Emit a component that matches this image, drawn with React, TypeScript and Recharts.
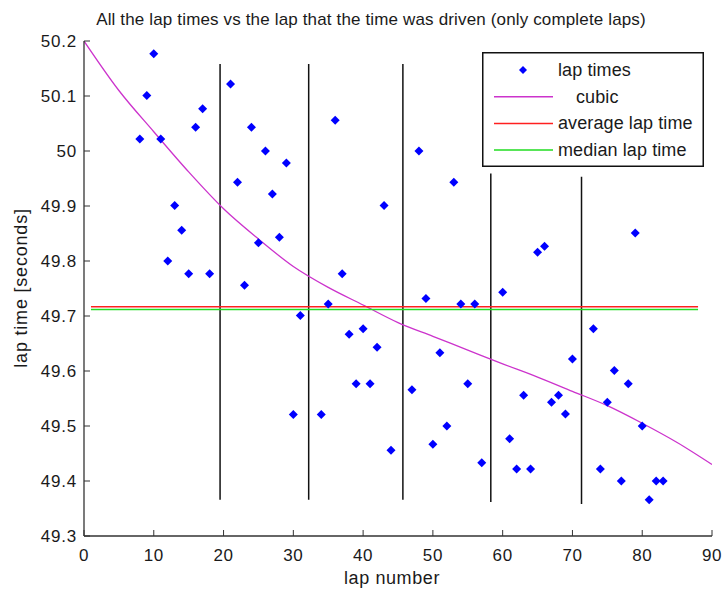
import { ComposedChart, Scatter, Line, XAxis, YAxis, ReferenceLine, Legend, Label } from 'recharts'

// lap numbers and their times (only complete laps, pit laps left out)
const laps = [
  8, 9, 10, 11, 12, 13, 14, 15, 16, 17, 18,
  21, 22, 23, 24, 25, 26, 27, 28, 29, 30, 31,
  34, 35, 36, 37, 38, 39, 40, 41, 42, 43, 44,
  47, 48, 49, 50, 51, 52, 53, 54, 55, 56, 57,
  60, 61, 62, 63, 64, 65, 66, 67, 68, 69, 70,
  73, 74, 75, 76, 77, 78, 79, 80, 81, 82, 83,
]
const lapTimes = [
  50.022, 50.101, 50.177, 50.022, 49.8, 49.901, 49.856, 49.777, 50.043, 50.077, 49.777,
  50.122, 49.943, 49.756, 50.043, 49.833, 50.0, 49.922, 49.843, 49.978, 49.521, 49.701,
  49.521, 49.722, 50.056, 49.777, 49.667, 49.577, 49.677, 49.577, 49.643, 49.901, 49.456,
  49.566, 50.0, 49.732, 49.467, 49.633, 49.5, 49.943, 49.722, 49.577, 49.722, 49.433,
  49.743, 49.477, 49.422, 49.556, 49.422, 49.816, 49.827, 49.543, 49.556, 49.522, 49.622,
  49.677, 49.422, 49.543, 49.601, 49.4, 49.577, 49.851, 49.5, 49.366, 49.4, 49.4,
]

// cubic fit, every 5 laps
const cubicLaps = [0, 5, 10, 15, 20, 25, 30, 35, 40, 45, 50, 55, 60, 65, 70, 75, 80, 85, 90]
const cubicTimes = [
  50.2, 50.11, 50.035, 49.962, 49.895, 49.84, 49.79, 49.752, 49.72, 49.688,
  49.663, 49.638, 49.613, 49.589, 49.563, 49.537, 49.505, 49.47, 49.43,
]

const avgLapTime = 49.7166
const medianLapTime = 49.712
const refLineLaps = [1, 88]

// pit stop markers (vertical lines)
const pitLaps = [19.5, 32.2, 45.7, 58.3, 71.3]
const pitTop = [50.158, 50.158, 50.158, 49.959, 49.953]
const pitBottom = [49.366, 49.366, 49.366, 49.362, 49.358]

const xTicks = [0, 10, 20, 30, 40, 50, 60, 70, 80, 90]
const yTicks = [49.3, 49.4, 49.5, 49.6, 49.7, 49.8, 49.9, 50, 50.1, 50.2]

const scatterData = laps.map((lap, i) => ({ lap, time: lapTimes[i] }))
const cubicData = cubicLaps.map((lap, i) => ({ lap, time: cubicTimes[i] }))
const avgData = refLineLaps.map((lap) => ({ lap, time: avgLapTime }))
const medianData = refLineLaps.map((lap) => ({ lap, time: medianLapTime }))

const FONT = '"Liberation Sans", Arial, sans-serif'
const AXIS = '#333'
const TXT = '#1a1a1a'

const fmtY = (v: number) => String(Number(v.toFixed(1)))

const XTick = ({ x, y, payload }: any) => (
  <g>
    <line x1={x} y1={y} x2={x} y2={y - 6} stroke={AXIS} />
    <text x={x} y={y + 19} textAnchor="middle" dominantBaseline="central" fontSize={17} letterSpacing={0.6} fontFamily={FONT} fill={TXT}>
      {payload.value}
    </text>
  </g>
)

const YTick = ({ x, y, payload }: any) => (
  <g>
    <line x1={x} y1={y} x2={x + 6} y2={y} stroke={AXIS} />
    <text x={x - 7} y={y} textAnchor="end" dominantBaseline="central" fontSize={17} letterSpacing={0.8} fontFamily={FONT} fill={TXT}>
      {fmtY(payload.value)}
    </text>
  </g>
)

const Diamond = ({ cx, cy }: any) => (
  <polygon points={`${cx},${cy - 4.5} ${cx + 4.5},${cy} ${cx},${cy + 4.5} ${cx - 4.5},${cy}`} fill="#0000ff" />
)

const LegendBox = () => {
  const rows = [
    { label: 'lap times', kind: 'dot', color: '#0000ff', tx: 76 },
    { label: 'cubic', kind: 'line', color: '#cc33cc', tx: 94 },
    { label: 'average lap time', kind: 'line', color: '#ff2020', tx: 76 },
    { label: 'median lap time', kind: 'line', color: '#20dd20', tx: 76 },
  ]
  return (
    <svg width={222} height={115} style={{ display: 'block' }}>
      <rect x={0.75} y={0.75} width={220.5} height={113.5} fill="#fff" stroke="#111" strokeWidth={1.5} />
      {rows.map((r, i) => {
        const cy = 18 + i * 26.7
        return (
          <g key={r.label}>
            {r.kind === 'dot' ? (
              <polygon points={`41,${cy - 4} 45,${cy} 41,${cy + 4} 37,${cy}`} fill={r.color} />
            ) : (
              <line x1={12} y1={cy} x2={71} y2={cy} stroke={r.color} strokeWidth={1.5} />
            )}
            <text x={r.tx} y={cy} dominantBaseline="central" fontSize={18} letterSpacing={0.1} fontFamily={FONT} fill={TXT}>
              {r.label}
            </text>
          </g>
        )
      })}
    </svg>
  )
}

export default function App() {
  return (
    <div style={{ position: 'absolute', left: 0, top: 0, width: 723, height: 590, background: '#fff' }}>
      <div
        style={{
          position: 'absolute', left: 0, top: 10, width: 742, textAlign: 'center',
          fontFamily: FONT, fontSize: 17, letterSpacing: 0.15, color: TXT, lineHeight: '20px',
        }}
      >
        All the lap times vs the lap that the time was driven (only complete laps)
      </div>
      <ComposedChart width={723} height={590} margin={{ top: 41, right: 11, left: 0, bottom: 0 }}>
        <XAxis
          type="number"
          dataKey="lap"
          domain={[0, 90]}
          ticks={xTicks}
          allowDataOverflow
          height={54}
          tickSize={0}
          tickMargin={0}
          tickLine={false}
          axisLine={{ stroke: AXIS, strokeWidth: 1.3 }}
          tick={<XTick />}
        >
          <Label
            content={() => (
              <text x={392} y={578} textAnchor="middle" dominantBaseline="central" fontSize={18} letterSpacing={0.6} fontFamily={FONT} fill={TXT}>
                lap number
              </text>
            )}
          />
        </XAxis>
        <YAxis
          type="number"
          dataKey="time"
          domain={[49.3, 50.2]}
          ticks={yTicks}
          allowDataOverflow
          width={84}
          tickSize={0}
          tickMargin={0}
          tickLine={false}
          axisLine={{ stroke: AXIS, strokeWidth: 1.3 }}
          tick={<YTick />}
        >
          <Label
            content={() => (
              <text x={21} y={288} transform="rotate(-90 21 288)" textAnchor="middle" dominantBaseline="central" fontSize={18} letterSpacing={0.8} fontFamily={FONT} fill={TXT}>
                lap time [seconds]
              </text>
            )}
          />
        </YAxis>
        {pitLaps.map((p, i) => (
          <ReferenceLine
            key={p}
            segment={[{ x: p, y: pitBottom[i] }, { x: p, y: pitTop[i] }]}
            stroke="#111"
            strokeWidth={1.5}
            ifOverflow="visible"
          />
        ))}
        <Line data={cubicData} dataKey="time" type="monotone" stroke="#cc33cc" strokeWidth={1.3} dot={false} isAnimationActive={false} />
        <Line data={avgData} dataKey="time" type="linear" stroke="#ff2020" strokeWidth={1.5} dot={false} isAnimationActive={false} />
        <Line data={medianData} dataKey="time" type="linear" stroke="#20dd20" strokeWidth={1.5} dot={false} isAnimationActive={false} />
        <Scatter data={scatterData} dataKey="time" shape={<Diamond />} isAnimationActive={false} />
        <Legend
          layout="horizontal"
          verticalAlign="middle"
          align="center"
          content={() => <LegendBox />}
          wrapperStyle={{ position: 'absolute', top: 52, left: 482, width: 222, height: 115 }}
        />
      </ComposedChart>
    </div>
  )
}
